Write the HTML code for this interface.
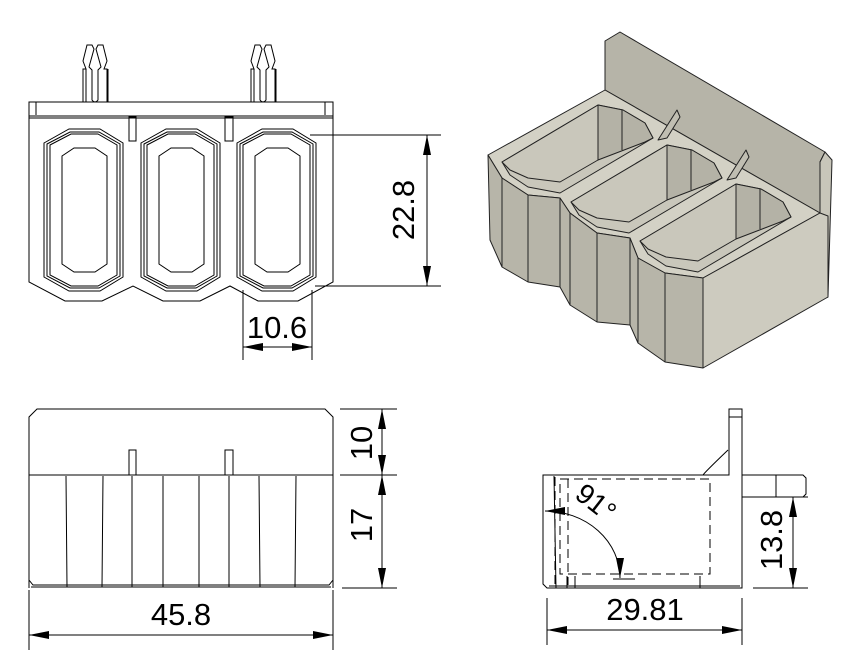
<!DOCTYPE html>
<html><head><meta charset="utf-8"><style>
html,body{margin:0;padding:0;background:#fff}
svg{display:block}
text{font-family:"Liberation Sans",sans-serif;fill:#000}
</style></head><body>
<svg width="851" height="669" viewBox="0 0 851 669" xmlns="http://www.w3.org/2000/svg">
<defs>
<marker id="a" viewBox="0 0 20 8" refX="20" refY="4" markerWidth="20" markerHeight="8" markerUnits="userSpaceOnUse" orient="auto-start-reverse"><path d="M0,0L20,4L0,8Z" fill="#000"/></marker>
</defs>
<g fill="none" stroke="#000" stroke-width="1">
<g id="clip">
<path d="M83,102V69h3l-3-8 4-16h5l2,4-5,18 3,3V100q3,4 6,0V70l3-3-5-18 2-4h5l4,16-3,8h3V102"/>
<path d="M86,69V102M108,69V102"/>
</g>
<use href="#clip" x="168"/>
<rect x="29" y="102" width="304" height="14"/>
<path d="M29,116V282L65,301H102L133,286L163,301H200L230,286L258,301H298L333,282V116"/>
<path d="M36,102V115M325,102V115M29,118H333"/>
<rect x="129" y="117" width="7" height="24"/>
<rect x="225" y="117" width="8" height="24"/>
<g id="pk">
<path d="M44,143L69,129H100L123,143V277L100,291H69L44,277Z"/>
<path d="M47,144L70,132H99L120,144V276L99,288H70L47,276Z"/>
<path d="M50,145L71,134H98L117,145V275L98,286H71L50,275Z"/>
<path d="M62,156L74,148H95L107,156V264L95,272H74L62,264Z"/>
</g>
<use href="#pk" x="97"/>
<use href="#pk" x="193"/>
<path d="M310,135H441M315,286H441"/>
<path d="M427,210V135" marker-end="url(#a)"/>
<path d="M427,210V286" marker-end="url(#a)"/>
<path d="M243,290V360M312,290V360"/>
<path d="M277,347H243" marker-end="url(#a)"/>
<path d="M277,347H312" marker-end="url(#a)"/>

<path d="M29,588V417L37,409H325L333,417V588"/>
<path d="M29,475H333M31,587H331M29,580L33,585H329L333,580"/>
<path d="M129,475V450H136V475M225,475V450H233V475"/>
<path d="M66,476L67,587M103,476L102,587M132,476V587M163,476V587M199,476V587M229,476V587M259,476L260,587M296,476L295,587"/>
<path d="M340,409H397M340,475H397M342,588H397"/>
<path d="M382,442V409" marker-end="url(#a)"/>
<path d="M382,442V475" marker-end="url(#a)"/>
<path d="M382,530V475" marker-end="url(#a)"/>
<path d="M382,530V588" marker-end="url(#a)"/>
<path d="M29,590V650M333,590V650"/>
<path d="M181,635H29" marker-end="url(#a)"/>
<path d="M181,635H333" marker-end="url(#a)"/>

<path d="M543,475H729V409H742V588H547L543,584Z"/>
<path d="M729,417H742M703,475Q705,472 728,450M742,475H803L806,478V494L803,497H742M776,475V497"/>
<path d="M547,588H742M549,586H740"/>
<g stroke-dasharray="9,5"><path d="M560,479H710V574H560Z"/><path d="M555,477V585M568,479V585"/></g>
<path d="M554,476L556,588M700,576V588M567,576V588M575,576V588"/>
<path d="M545,511A75,67 0 0 1 620,578" marker-start="url(#a)" marker-end="url(#a)"/>
<path d="M613,579H635"/>
<path d="M790,497H808M753,588H808"/>
<path d="M793,542V497" marker-end="url(#a)"/>
<path d="M793,542V588" marker-end="url(#a)"/>
<path d="M547,598V645M742,598V645"/>
<path d="M645,630H547" marker-end="url(#a)"/>
<path d="M645,630H742" marker-end="url(#a)"/>
</g>

<g stroke="#222" stroke-width="1" stroke-linejoin="round">
<path d="M605,90L605,41L620,32L825,152L820,162L820,213Z" fill="#b6b4a8"/>
<path d="M820,162L825,152L832,160L828,297L820,300Z" fill="#c8c6ba"/>
<path d="M488,155L605,90L820,213L703,278L665,273L638,258L630,238L597,233L570,213L560,198L528,195L502,178Z" fill="#d3d1c5"/>
<path d="M703,278L820,213L828,216L828,297L703,368Z" fill="#cdcbbf"/>
<path d="M488,155L502,178L528,195L560,198L570,213L597,233L630,238L638,258L665,273L703,278L703,368L665,362L638,343L630,325L597,322L570,305L560,287L528,282L502,267L490,240Z" fill="#b7b5a9"/>
<path d="M502,178L502,267M528,195L528,282M560,198L560,287M570,213L570,305M597,233L597,322M630,238L630,325M638,258L638,343M665,273L665,362" fill="none"/>
<g id="ipk">
<path d="M502,162L598,105L623,110L645,123L653,138L560,193L528,187L510,175Z" fill="#c9c7bb"/>
<path d="M598,105L623,110L645,123L653,138L645,142L598,160Z" fill="#b4b2a6"/>
<path d="M598,105V160M622,110V150" fill="none"/>
<path d="M502,162L598,105L598,160L560,182L528,178L510,170Z" fill="#c9c7bb"/>
</g>
<use href="#ipk" x="69" y="40"/>
<use href="#ipk" x="138" y="79"/>
<path d="M658,140L677,110L680,117L667,138Z" fill="#c0beb2"/>
<path d="M727,180L746,150L749,157L736,178Z" fill="#c0beb2"/>
</g>

<text x="277" y="338" font-size="31" text-anchor="middle">10.6</text>
<text transform="translate(414,210) rotate(-90)" font-size="31" text-anchor="middle">22.8</text>
<text x="181" y="625" font-size="31" text-anchor="middle">45.8</text>
<text transform="translate(372,443) rotate(-90)" font-size="31" text-anchor="middle">10</text>
<text transform="translate(372,525) rotate(-90)" font-size="31" text-anchor="middle">17</text>
<text x="645" y="620" font-size="31" text-anchor="middle">29.81</text>
<text transform="translate(782,540) rotate(-90)" font-size="31" text-anchor="middle">13.8</text>
<text transform="translate(590,510) rotate(38)" font-size="28" text-anchor="middle">91°</text>
</svg>
</body></html>
